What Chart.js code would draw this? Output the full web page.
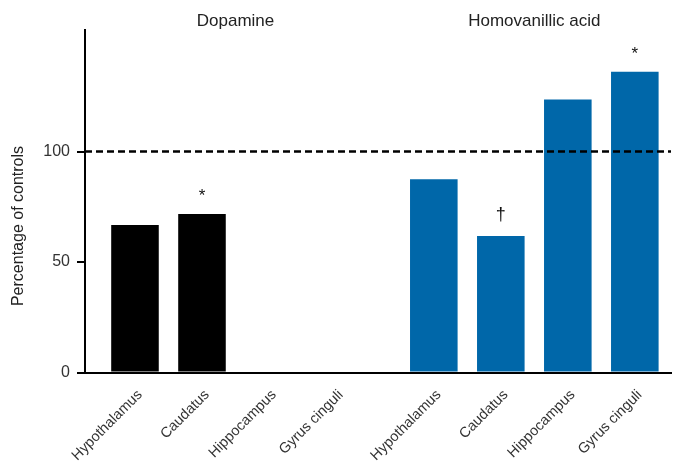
<!DOCTYPE html>
<html><head><meta charset="utf-8">
<script src="https://cdn.jsdelivr.net/npm/chart.js@4/dist/chart.umd.min.js"></script>
<style>html,body{margin:0;padding:0;background:#fff}#wrap{width:673px;height:469px;position:relative}</style>
</head><body><div id="wrap"><canvas id="c"></canvas></div>
<script>
// ---- data ----
const regions = ['Hypothalamus', 'Caudatus', 'Hippocampus', 'Gyrus cinguli'];
const groupTitles = ['Dopamine', 'Homovanillic acid'];
const dopamine = [66.7, 71.7, null, null];
const hva = [87.4, 61.8, 123.6, 136.1];
const dopamineMarks = ['', '*', '', ''];
const hvaMarks = ['', '\u2020', '', '*'];
const yTicks = [0, 50, 100];
const referenceLevel = 100;
const yTitle = 'Percentage of controls';

// ---- layout ----
const GROUP_GAP = 4.46;
const BLUE = '#0067a9';
const FONT = "'Liberation Sans', Arial, Helvetica, sans-serif";
const daX = regions.map((r, i) => i);
const hvaX = regions.map((r, i) => i + GROUP_GAP);
const tickPositions = daX.concat(hvaX);
const tickLabels = regions.concat(regions);

const annot = {
  id: 'annot',
  afterDatasetsDraw(chart) {
    const ctx = chart.ctx, ca = chart.chartArea;
    const y = chart.scales.y, x = chart.scales.x;
    ctx.save();
    // reference line
    ctx.strokeStyle = '#000';
    ctx.lineWidth = 2.5;
    ctx.setLineDash([7, 4]);
    const yp = Math.floor(y.getPixelForValue(referenceLevel)) + 0.5;
    ctx.beginPath(); ctx.moveTo(ca.left, yp); ctx.lineTo(ca.right, yp); ctx.stroke();
    ctx.setLineDash([]);
    // marks
    ctx.fillStyle = '#111';
    ctx.textAlign = 'center';
    ctx.textBaseline = 'alphabetic';
    [[0, dopamineMarks], [1, hvaMarks]].forEach(([d, marks]) => {
      const meta = chart.getDatasetMeta(d);
      marks.forEach((m, i) => {
        if (!m) return;
        const el = meta.data[i];
        const dagger = m !== '*';
        ctx.font = (dagger ? '18px ' : '17px ') + FONT;
        ctx.fillText(m, el.x, el.y - (dagger ? 16 : 13));
      });
    });
    // group titles
    ctx.font = '17px ' + FONT;
    ctx.fillStyle = '#222';
    [daX, hvaX].forEach((xs, g) => {
      const cx = (x.getPixelForValue(xs[0]) + x.getPixelForValue(xs[xs.length - 1])) / 2;
      ctx.fillText(groupTitles[g], cx, 26);
    });
    // y title
    ctx.translate(23, 226);
    ctx.rotate(-Math.PI / 2);
    ctx.font = '16px ' + FONT;
    ctx.fillText(yTitle, 0, 0);
    ctx.restore();
  }
};

new Chart(document.getElementById('c'), {
  type: 'bar',
  data: {
    datasets: [
      { label: groupTitles[0], data: daX.map((v, i) => ({ x: v, y: dopamine[i] })), backgroundColor: '#000' },
      { label: groupTitles[1], data: hvaX.map((v, i) => ({ x: v, y: hva[i] })), backgroundColor: BLUE }
    ]
  },
  options: {
    responsive: true,
    maintainAspectRatio: false,
    animation: false,
    grouped: false,
    barPercentage: 0.71,
    categoryPercentage: 1,
    layout: { padding: { top: 30, right: 2, left: 0, bottom: 0 } },
    plugins: { legend: { display: false }, tooltip: { enabled: false } },
    scales: {
      x: {
        type: 'linear',
        offset: false,
        z: 1,
        min: -0.746,
        max: 8.0,
        afterBuildTicks: (s) => { s.ticks = tickPositions.map(v => ({ value: v })); },
        afterFit: (s) => { s.height = 96.5; },
        grid: { display: false },
        border: { display: true, color: '#000', width: 2 },
        ticks: {
          autoSkip: false,
          minRotation: 45,
          maxRotation: 45,
          padding: 6,
          labelOffset: 5,
          color: '#333',
          font: { family: FONT, size: 14.5 },
          callback: (v, i) => tickLabels[i]
        }
      },
      y: {
        min: 0,
        max: 155,
        z: 1,
        afterBuildTicks: (s) => { s.ticks = yTicks.map(v => ({ value: v })); },
        afterFit: (s) => { s.width = 85; },
        grid: { drawOnChartArea: false, drawTicks: true, tickLength: 8, color: '#000', lineWidth: 2 },
        border: { display: true, color: '#000', width: 2 },
        ticks: { padding: 7, color: '#333', font: { family: FONT, size: 16 } }
      }
    }
  },
  plugins: [annot]
});
</script>
</body></html>
